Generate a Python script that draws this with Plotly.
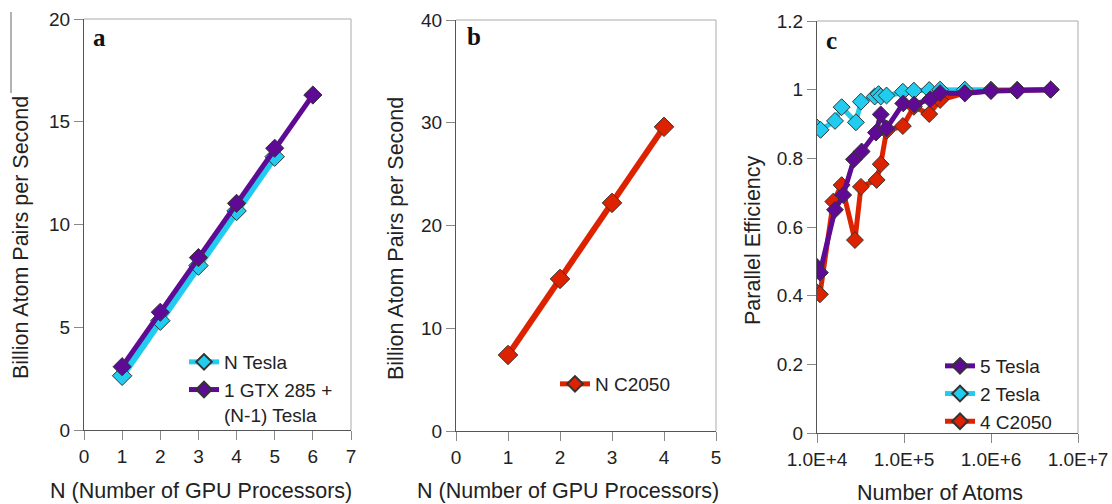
import plotly.graph_objects as go

# ---------------- data ----------------
# Panel a
a_n = [1, 2, 3, 4, 5]
a_tesla = [2.64, 5.32, 8.0, 10.66, 13.3]
a_n_gtx = [1, 2, 3, 4, 5, 6]
a_gtx = [3.08, 5.73, 8.39, 11.03, 13.71, 16.3]

# Panel b
b_n = [1, 2, 3, 4]
b_c2050 = [7.4, 14.8, 22.2, 29.6]

# Panel c
c_atoms_2tesla = [9.8e3, 1.1e4, 1.61e4, 1.92e4, 2.8e4, 3.2e4, 4.6e4, 5.1e4, 5.4e4, 6.3e4,
                  9.7e4, 1.3e5, 1.95e5, 2.6e5, 5.0e5, 1.0e6, 2.0e6, 4.85e6]
c_eff_2tesla = [0.892, 0.883, 0.909, 0.949, 0.905, 0.965, 0.980, 0.987, 0.980, 0.983,
                0.994, 0.997, 0.999, 1.0, 1.0, 1.0, 1.0, 1.0]

c_atoms_5tesla = [9.6e3, 1.08e4, 1.61e4, 2.0e4, 2.66e4, 3.26e4, 4.76e4, 5.4e4, 6.3e4,
                  9.8e4, 1.31e5, 2.0e5, 2.6e5, 5.0e5, 1.0e6, 2.0e6, 4.85e6]
c_eff_5tesla = [0.488, 0.467, 0.650, 0.693, 0.797, 0.820, 0.875, 0.928, 0.887,
                0.960, 0.957, 0.972, 0.990, 0.989, 0.996, 0.997, 1.0]

c_atoms_c2050 = [9.8e3, 1.08e4, 1.54e4, 1.92e4, 2.73e4, 3.2e4, 4.85e4, 5.4e4, 6.3e4,
                 9.7e4, 1.3e5, 1.95e5, 2.6e5, 5.0e5, 1.0e6, 2.0e6, 4.85e6]
c_eff_c2050 = [0.412, 0.404, 0.674, 0.722, 0.562, 0.717, 0.737, 0.783, 0.880,
               0.894, 0.950, 0.929, 0.970, 0.990, 0.997, 0.998, 1.0]

c_tickvals = [1e4, 1e5, 1e6, 1e7]
c_ticktext = ["1.0E+4", "1.0E+5", "1.0E+6", "1.0E+7"]

# ---------------- style ----------------
CYAN = "#22CCEE"
PURPLE = "#5E0A94"
RED = "#DD2200"
FONT = "Liberation Sans"
W, H = 1112, 504

def px_x(p):
    return p / W

def px_y(p):
    return (H - p) / H

fig = go.Figure()

def add_series(x, y, color, name, xa, ya, legend, rank, lw=6, ms=14):
    fig.add_trace(go.Scatter(
        x=x, y=y, name=name, mode="lines+markers",
        xaxis=xa, yaxis=ya, legend=legend, legendrank=rank,
        line=dict(color=color, width=lw),
        marker=dict(symbol="diamond", size=ms, color=color,
                    line=dict(color="#333333", width=1)),
    ))

# Panel a
add_series(a_n, a_tesla, CYAN, "N Tesla", "x", "y", "legend", 1, lw=7, ms=15)
add_series(a_n_gtx, a_gtx, PURPLE, "1 GTX 285 +<br>(N-1) Tesla", "x", "y", "legend", 2, lw=5, ms=14)
# Panel b
add_series(b_n, b_c2050, RED, "N C2050", "x2", "y2", "legend2", 1, lw=6, ms=15)
# Panel c
add_series(c_atoms_2tesla, c_eff_2tesla, CYAN, "2 Tesla", "x3", "y3", "legend3", 2, lw=5, ms=13)
add_series(c_atoms_c2050, c_eff_c2050, RED, "4 C2050", "x3", "y3", "legend3", 3, lw=5, ms=13)
add_series(c_atoms_5tesla, c_eff_5tesla, PURPLE, "5 Tesla", "x3", "y3", "legend3", 1, lw=5, ms=13)

axis_common = dict(
    showline=True, linecolor="#555555", linewidth=1,
    ticks="outside", ticklen=9, tickcolor="#888888", tickwidth=1,
    showgrid=False, zeroline=False, automargin=False,
    tickfont=dict(family=FONT, size=19, color="#222222"),
)

domains = {
    "a": ([px_x(84), px_x(351)], [px_y(430), px_y(19)]),
    "b": ([px_x(456), px_x(716)], [px_y(431), px_y(20)]),
    "c": ([px_x(817), px_x(1078)], [px_y(433), px_y(21)]),
}

fig.update_layout(
    width=W, height=H,
    margin=dict(l=0, r=0, t=0, b=0, autoexpand=False),
    paper_bgcolor="white", plot_bgcolor="white",
    showlegend=True,
    xaxis=dict(domain=domains["a"][0], anchor="y", range=[0, 7], dtick=1, **axis_common),
    yaxis=dict(domain=domains["a"][1], anchor="x", range=[0, 20], dtick=5, **axis_common),
    xaxis2=dict(domain=domains["b"][0], anchor="y2", range=[0, 5], dtick=1, **axis_common),
    yaxis2=dict(domain=domains["b"][1], anchor="x2", range=[0, 40], dtick=10, **axis_common),
    xaxis3=dict(domain=domains["c"][0], anchor="y3", type="log", range=[4, 7],
                tickvals=c_tickvals, ticktext=c_ticktext, **axis_common),
    yaxis3=dict(domain=domains["c"][1], anchor="x3", range=[0, 1.2], dtick=0.2, **axis_common),
)

legend_common = dict(
    bgcolor="rgba(0,0,0,0)", borderwidth=0, xanchor="left", yanchor="top",
    font=dict(family=FONT, size=19, color="#222222"),
    itemwidth=30, valign="top", tracegroupgap=0, itemsizing="constant",
)
fig.update_layout(
    legend=dict(x=px_x(184), y=px_y(343), **legend_common),
    legend2=dict(x=px_x(555), y=px_y(365), **legend_common),
    legend3=dict(x=px_x(940), y=px_y(347), **legend_common),
)

# box top/right lines
shapes = []
for xa, ya in [("x", "y"), ("x2", "y2"), ("x3", "y3")]:
    shapes.append(dict(type="line", xref=f"{xa} domain", yref=f"{ya} domain",
                       x0=0, x1=1, y0=1, y1=1, line=dict(color="#aaaaaa", width=1)))
    shapes.append(dict(type="line", xref=f"{xa} domain", yref=f"{ya} domain",
                       x0=1, x1=1, y0=0, y1=1, line=dict(color="#aaaaaa", width=1)))
# stray vertical line at the left edge of the reference
shapes.append(dict(type="line", xref="paper", yref="paper",
                   x0=px_x(11), x1=px_x(11), y0=px_y(12), y1=px_y(93),
                   line=dict(color="#666666", width=1)))
fig.update_layout(shapes=shapes)

title_font = dict(family=FONT, size=21.5, color="#222222")
label_font = dict(family="Liberation Serif", size=25, color="#111111")
annotations = [
    # x titles
    dict(text="N (Number of GPU Processors)", x=px_x(201), y=px_y(491)),
    dict(text="N (Number of GPU Processors)", x=px_x(568), y=px_y(491)),
    dict(text="Number of Atoms", x=px_x(940), y=px_y(493)),
]
annotations = [dict(a, xref="paper", yref="paper", xanchor="center", yanchor="middle",
                    showarrow=False, font=title_font) for a in annotations]
for txt, xc, yc in [("Billion Atom Pairs per Second", 21, 238),
                    ("Billion Atom Pairs per Second", 396, 239),
                    ("Parallel Efficiency", 753, 240)]:
    annotations.append(dict(text=txt, x=px_x(xc), y=px_y(yc), xref="paper", yref="paper",
                            xanchor="center", yanchor="middle", textangle=-90,
                            showarrow=False, font=title_font))
for txt, xl, yc in [("<b>a</b>", 91, 38), ("<b>b</b>", 465, 37), ("<b>c</b>", 824, 40)]:
    annotations.append(dict(text=txt, x=px_x(xl), y=px_y(yc), xref="paper", yref="paper",
                            xanchor="left", yanchor="middle", showarrow=False,
                            font=label_font))
fig.update_layout(annotations=annotations)

# remove the browser's default 8px page margin so the figure fills the window exactly
fig.write_html(
    "out.html",
    config={"displayModeBar": False},
    post_script="document.body.style.margin='0';document.body.style.overflow='hidden';",
)
